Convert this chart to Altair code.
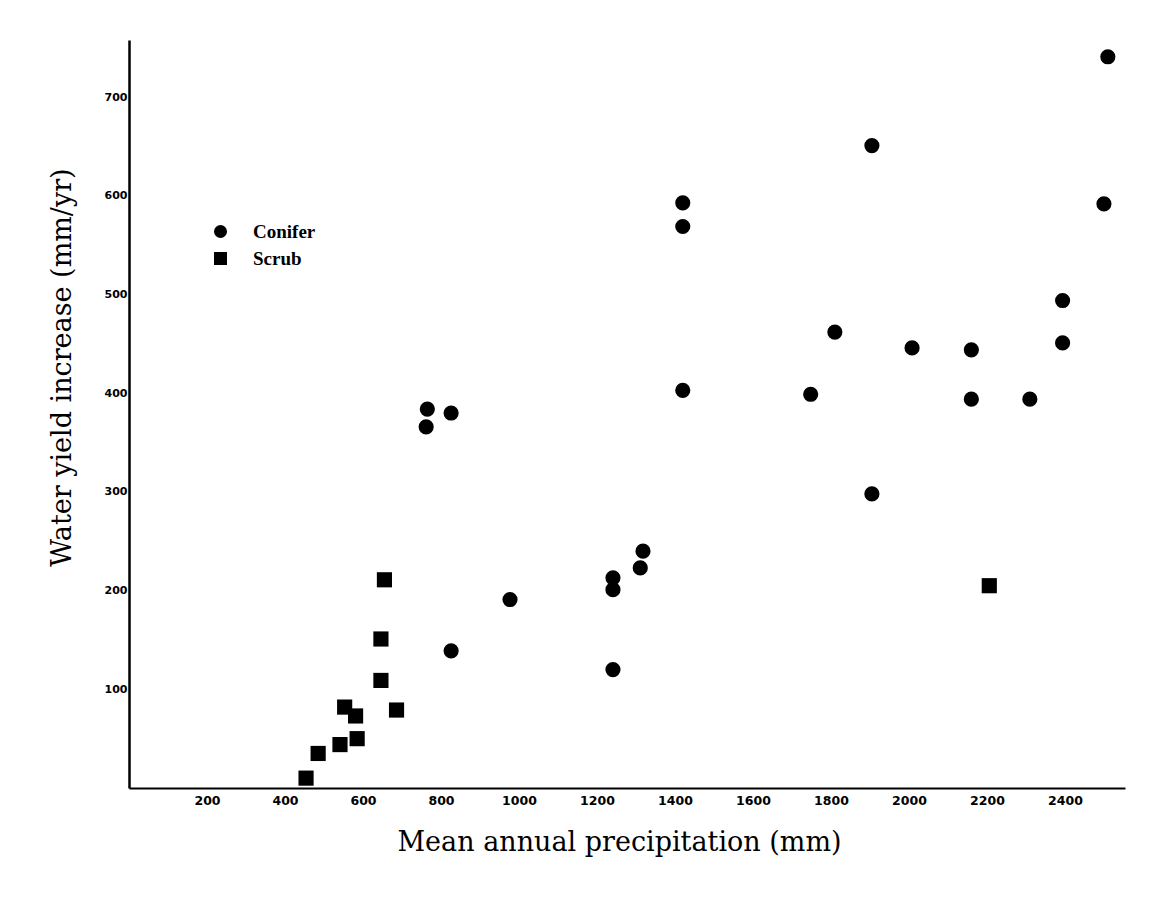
import altair as alt
import pandas as pd

# Conifer sites: mean annual precipitation (mm), water yield increase (mm/yr)
conifer_precip = [2510, 1905, 1420, 1420, 2500, 2394, 1810, 2008, 2160, 2394,
                  1420, 1748, 2160, 2310, 765, 826, 762, 1905, 1318, 1311,
                  1241, 1241, 977, 826, 1241]
conifer_yield = [741, 651, 593, 569, 592, 494, 462, 446, 444, 451,
                 403, 399, 394, 394, 384, 380, 366, 298, 240, 223,
                 213, 201, 191, 139, 120]

# Scrub sites
scrub_precip = [655, 646, 646, 553, 581, 686, 585, 541, 485, 454, 2206]
scrub_yield = [211, 151, 109, 82, 73, 79, 50, 44, 35, 10, 205]

x_ticks = [200, 400, 600, 800, 1000, 1200, 1400, 1600, 1800, 2000, 2200, 2400]
y_ticks = [100, 200, 300, 400, 500, 600, 700]

df = pd.DataFrame({
    "precip": conifer_precip + scrub_precip,
    "yield": conifer_yield + scrub_yield,
    "type": ["Conifer"] * len(conifer_precip) + ["Scrub"] * len(scrub_precip),
})

chart = alt.Chart(df).mark_point(filled=True, opacity=1, color="black", size=230).encode(
    x=alt.X("precip:Q",
            scale=alt.Scale(domain=[0, 2554], nice=False, zero=False),
            axis=alt.Axis(values=x_ticks, format="d", title="Mean annual precipitation (mm)",
                          grid=False, ticks=False, labelPadding=6,
                          labelFont="DejaVu Sans", labelFontSize=12.5,
                          labelFontWeight="bold", labelColor="black",
                          domainColor="black", domainWidth=2,
                          titleFont="DejaVu Serif", titleFontSize=27,
                          titleFontWeight="normal", titleColor="black",
                          titleBaseline="alphabetic", titleX=490, titleY=62)),
    y=alt.Y("yield:Q",
            scale=alt.Scale(domain=[0, 758], nice=False, zero=False),
            axis=alt.Axis(values=y_ticks, format="d", title="Water yield increase (mm/yr)",
                          grid=False, ticks=False, labelPadding=2,
                          labelFont="DejaVu Sans", labelFontSize=11,
                          labelFontWeight="bold", labelColor="black",
                          domainColor="black", domainWidth=2.5,
                          titleFont="DejaVu Serif", titleFontSize=27,
                          titleFontWeight="normal", titleColor="black",
                          titleX=-53, titleY=327)),
    shape=alt.Shape("type:N",
                    scale=alt.Scale(domain=["Conifer", "Scrub"], range=["circle", "square"]),
                    legend=alt.Legend(title=None, orient="none", legendX=82, legendY=182,
                                      symbolSize=170, symbolFillColor="black",
                                      symbolStrokeColor="black", symbolStrokeWidth=0,
                                      symbolOpacity=1,
                                      labelFont="Liberation Serif", labelFontSize=19,
                                      labelFontWeight="bold", labelColor="black",
                                      labelOffset=23, rowPadding=7, padding=0)),
).properties(
    width=996,
    height=748,
    autosize=alt.AutoSizeParams(type="none"),
    padding={"left": 121, "top": 32, "right": 27, "bottom": 108},
    background="white",
).configure_view(stroke=None)

chart.save("out.html", embed_options={"renderer": "svg", "actions": False})
